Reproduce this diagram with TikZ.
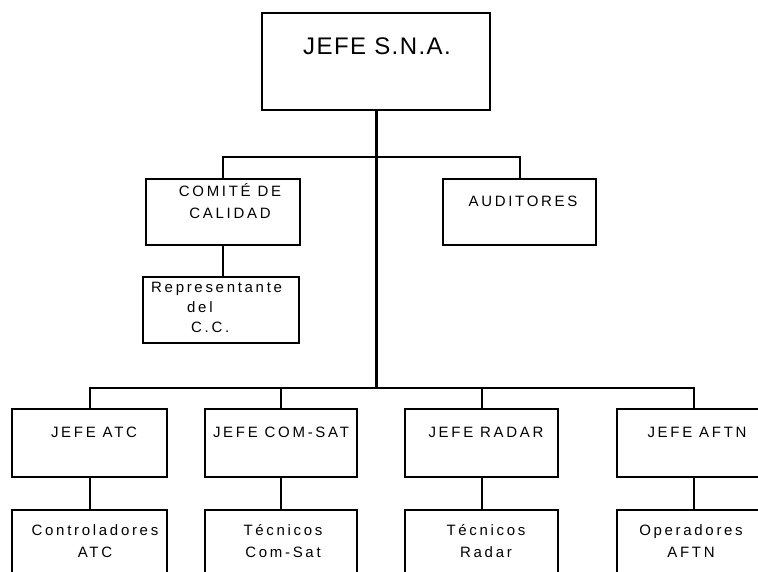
\documentclass[tikz,border=0pt]{standalone}
\usepackage{fontspec}
\setmainfont{Liberation Sans}
\newfontfamily\headfont[LetterSpace=6]{Liberation Sans}
\newfontfamily\boxfont[LetterSpace=18]{Liberation Sans}
\begin{document}
\begin{tikzpicture}[x=1pt,y=-1pt,
  orgbox/.style={draw, line width=1.5pt, rectangle, inner sep=0pt, outer sep=0pt},
  lbl/.style={inner sep=0pt, anchor=base, font=\boxfont\fontsize{15}{22}\selectfont, align=center},
  link/.style={line width=2pt},
  trunk/.style={line width=3pt}]
\useasboundingbox (0,0) rectangle (758,572);
\clip (0,0) rectangle (758,572);

% head of the service
\node[orgbox, minimum width=228pt, minimum height=97pt] (jefe) at (376,61.5) {};
\node[inner sep=0pt, anchor=base, font=\headfont\fontsize{24}{28}\selectfont] (tjefe) at (377,55) {JEFE S.N.A.};

% staff units (multi-line labels are placed by the baseline of their last line)
\node[orgbox, minimum width=154pt, minimum height=66pt] (comite) at (223,212) {};
\node[lbl] (tcomite) at (230,219) {COMITÉ DE\\CALIDAD};
\node[orgbox, minimum width=153pt, minimum height=66pt] (audit) at (519.5,212) {};
\node[lbl] (taudit) at (523,207) {AUDITORES};
\node[orgbox, minimum width=156pt, minimum height=66pt] (repr) at (221,310) {};
\node[lbl, anchor=base west, align=left, font=\boxfont\fontsize{15}{20}\selectfont] (trepr) at (151,332) {Representante\\\hspace{36pt}del\\\hspace{40pt}C.C.};

% department heads
\node[orgbox, minimum width=155pt, minimum height=68pt] (atc) at (89.5,443) {};
\node[lbl] (tatc) at (94,437) {JEFE ATC};
\node[orgbox, minimum width=152pt, minimum height=68pt] (csat) at (281,443) {};
\node[lbl] (tcsat) at (281,437) {JEFE COM-SAT};
\node[orgbox, minimum width=153pt, minimum height=68pt] (radar) at (481.5,443) {};
\node[lbl] (tradar) at (486,437) {JEFE RADAR};
\node[orgbox, minimum width=153pt, minimum height=68pt] (aftn) at (693.5,443) {};
\node[lbl] (taftn) at (697,437) {JEFE AFTN};

% staff of each department
\node[orgbox, minimum width=155pt, minimum height=68pt] (ctrl) at (89.5,544) {};
\node[lbl] (tctrl) at (95,557) {Controladores\\ATC};
\node[orgbox, minimum width=152pt, minimum height=68pt] (tcs) at (281,544) {};
\node[lbl] (ttcs) at (283,557) {Técnicos\\Com-Sat};
\node[orgbox, minimum width=153pt, minimum height=68pt] (trad) at (481.5,544) {};
\node[lbl] (ttrad) at (486,557) {Técnicos\\Radar};
\node[orgbox, minimum width=153pt, minimum height=68pt] (oper) at (693.5,544) {};
\node[lbl] (toper) at (691,557) {Operadores\\AFTN};

% branch points on the trunk
\coordinate (upper) at (376,157);
\coordinate (lower) at (376,388);

% connectors
\draw[trunk] (jefe.south) -- (lower);
\draw[link] (comite.north) |- (upper) -| (audit.north);
\draw[link] (comite.south) -- (comite.south |- repr.north);
\draw[link] (atc.north) |- (lower) -| (aftn.north);
\draw[link] (csat.north) -- (csat.north |- lower);
\draw[link] (radar.north) -- (radar.north |- lower);
\draw[link] (atc.south) -- (ctrl.north);
\draw[link] (csat.south) -- (tcs.north);
\draw[link] (radar.south) -- (trad.north);
\draw[link] (aftn.south) -- (oper.north);
\end{tikzpicture}
\end{document}
